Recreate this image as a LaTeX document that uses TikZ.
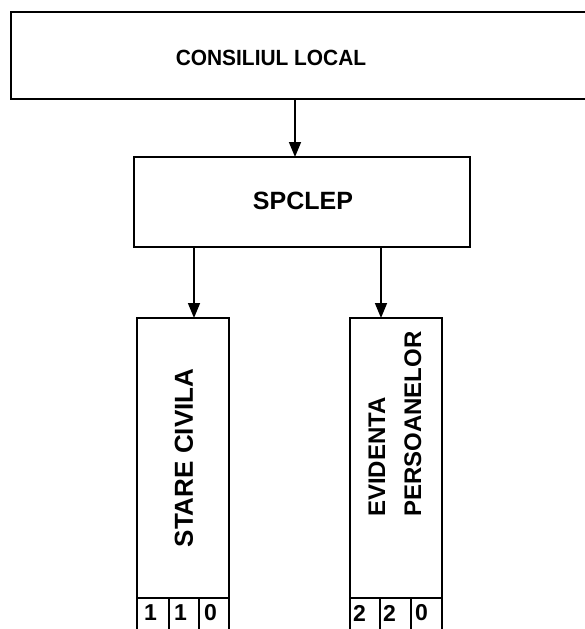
\documentclass[tikz,border=0pt]{standalone}
\usepackage{fontspec}
\setmainfont{Liberation Sans}
\usetikzlibrary{arrows.meta}
\begin{document}
\begin{tikzpicture}[x=1pt,y=-1pt,
  box/.style={draw, line width=2pt, inner sep=0pt, outer sep=0pt, anchor=north west},
  cellbox/.style={draw, line width=1.8pt, inner sep=0pt, outer sep=0pt, anchor=north west, minimum height=40pt},
  lbl/.style={font=\bfseries\fontsize{22}{26}\selectfont, inner sep=0pt},
  vlbl/.style={font=\bfseries\fontsize{26}{30}\selectfont, inner sep=0pt, rotate=90},
  digit/.style={font=\bfseries\fontsize{23}{26}\selectfont, inner sep=0pt, anchor=west},
  arr/.style={line width=1.6pt, -{Triangle[length=15pt,width=12pt]}}]
\useasboundingbox (0,0) rectangle (585,629);
\clip (0,0) rectangle (585,629);
% boxes
\node[box, line width=2.5pt, minimum width=600pt, minimum height=87pt] (cl) at (11,12) {};
\node[lbl] (clt) at (271,58) {\scalebox{0.95}[1]{CONSILIUL LOCAL}};
\node[box, minimum width=336pt, minimum height=90pt] (sp) at (134,157) {};
\node[lbl, font=\bfseries\fontsize{25}{28}\selectfont] (spt) at (303,201) {SPCLEP};
\node[box, minimum width=92pt, minimum height=340pt] (sc) at (137,318) {};
\node[box, minimum width=92pt, minimum height=340pt] (ep) at (350,318) {};
\node[vlbl] (sct) at (184,458) {STARE CIVILA};
\node[vlbl, font=\bfseries\fontsize{24}{36}\selectfont, align=left, anchor=west] (ept) at (395,517) {EVIDENTA\\PERSOANELOR};
% cells
\node[cellbox, minimum width=32pt] (c11) at (137,598) {};
\node[cellbox, minimum width=30pt] (c12) at (169,598) {};
\node[cellbox, minimum width=30pt] (c13) at (199,598) {};
\node[cellbox, minimum width=30pt] (c21) at (350,598) {};
\node[cellbox, minimum width=31pt] (c22) at (380,598) {};
\node[cellbox, minimum width=31pt] (c23) at (411,598) {};
\node[digit] (d11) at (144,613) {1};
\node[digit] (d12) at (174,613) {1};
\node[digit] (d13) at (204,613) {0};
\node[digit] (d21) at (353,613) {2};
\node[digit] (d22) at (383,613) {2};
\node[digit] (d23) at (415,613) {0};
% arrows
\coordinate (xa) at (295,0);
\coordinate (xb) at (194,0);
\coordinate (xc) at (381,0);
\draw[arr] (cl.south -| xa) -- (sp.north -| xa);
\draw[arr] (sp.south -| xb) -- (sc.north -| xb);
\draw[arr] (sp.south -| xc) -- (ep.north -| xc);
\end{tikzpicture}
\end{document}
